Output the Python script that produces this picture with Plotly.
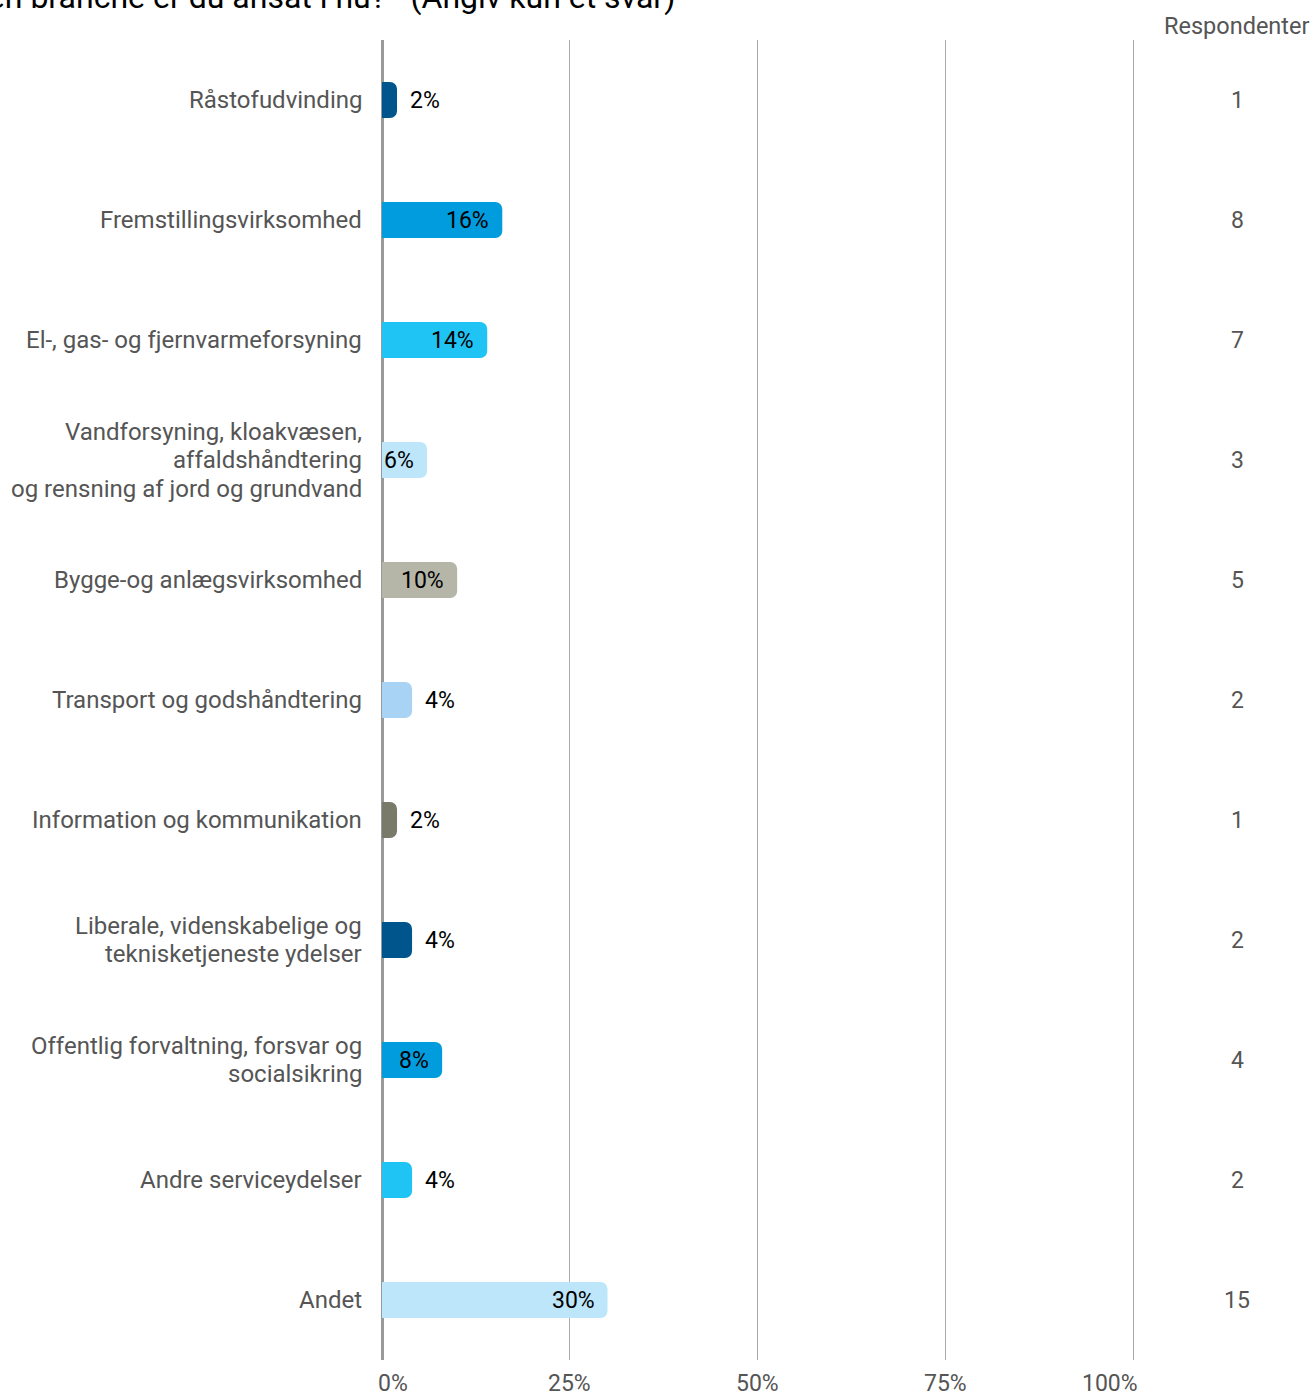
import plotly.graph_objects as go

categories = [
    "Råstofudvinding",
    "Fremstillingsvirksomhed",
    "El-, gas- og fjernvarmeforsyning",
    "Vandforsyning, kloakvæsen,<br>affaldshåndtering<br>og rensning af jord og grundvand",
    "Bygge-og anlægsvirksomhed",
    "Transport og godshåndtering",
    "Information og kommunikation",
    "Liberale, videnskabelige og<br>teknisketjeneste ydelser",
    "Offentlig forvaltning, forsvar og<br>socialsikring",
    "Andre serviceydelser",
    "Andet",
]
percent = [2, 16, 14, 6, 10, 4, 2, 4, 8, 4, 30]
respondents = [1, 8, 7, 3, 5, 2, 1, 2, 4, 2, 15]
colors = ["#00558C", "#009CDE", "#20C4F4", "#BDE6FA", "#B5B5A8", "#A9D3F5",
          "#7A7A6A", "#00558C", "#009CDE", "#20C4F4", "#BDE6FA"]
tick_vals = [0, 25, 50, 75, 100]
tick_text = ["0%", "25%", "50%", "75%", "100%"]
title = "Hvilken branche er du ansat i nu? - (Angiv kun et svar)"

FONT = "Roboto"
W, H = 1314, 1399
ML, MR, MT, MB = 382, 178, 40, 39
PW = W - ML - MR
LINE_H = 28.5

fig = go.Figure(go.Bar(
    x=percent, y=categories, orientation="h",
    marker=dict(color=colors, line=dict(width=0)),
    hoverinfo="skip",
))

annotations = []
# category labels (one annotation per line for tighter line spacing)
for c in categories:
    lines = c.split("<br>")
    n = len(lines)
    for i, ln in enumerate(lines):
        annotations.append(dict(
            x=0, y=c, xref="paper", yref="y", text=ln, showarrow=False,
            xanchor="right", yanchor="middle", align="right", xshift=-18,
            yshift=((n - 1) / 2 - i) * LINE_H,
            font=dict(family=FONT, size=24, color="#555555"),
        ))
# value labels
for c, v in zip(categories, percent):
    inside = v >= 5
    annotations.append(dict(
        x=v, y=c, xref="x", yref="y", text=f"{v}%", showarrow=False,
        xanchor="right" if inside else "left", xshift=-11 if inside else 11,
        font=dict(family=FONT, size=23, color="#000000"),
    ))
# respondent counts
rx = (1237 - ML) / PW
for c, r in zip(categories, respondents):
    annotations.append(dict(
        x=rx, y=c, xref="paper", yref="y", text=str(r), showarrow=False,
        xanchor="center", font=dict(family=FONT, size=23, color="#555555"),
    ))
annotations.append(dict(
    x=(1311 - ML) / PW, y=1, xref="paper", yref="paper", text="Respondenter",
    showarrow=False, xanchor="right", yanchor="middle", yshift=14,
    font=dict(family=FONT, size=23.5, color="#555555"),
))
# x tick labels
tick_shift = {0: 11, 100: -24}
for tv, tt in zip(tick_vals, tick_text):
    annotations.append(dict(
        x=tv, y=0, xref="x", yref="paper", text=tt, showarrow=False,
        xanchor="center", yanchor="top", yshift=-8, xshift=tick_shift.get(tv, 0),
        font=dict(family=FONT, size=23, color="#555555"),
    ))
annotations.append(dict(
    x=(677 - ML) / PW, y=1, xref="paper", yref="paper", text=title,
    showarrow=False, xanchor="right", yanchor="middle", yshift=43,
    font=dict(family=FONT, size=32, color="#000000"),
))

fig.update_layout(
    width=W, height=H,
    margin=dict(l=ML, r=MR, t=MT, b=MB),
    paper_bgcolor="white", plot_bgcolor="white",
    bargap=0.7, barcornerradius=7,
    showlegend=False,
    annotations=annotations,
    font=dict(family=FONT, size=22, color="#555555"),
    xaxis=dict(
        range=[0, 100.3], tickvals=tick_vals, showticklabels=False,
        showgrid=True, gridcolor="#AAAAAA", gridwidth=1,
        zeroline=True, zerolinecolor="#999999", zerolinewidth=3,
        fixedrange=True,
    ),
    yaxis=dict(
        autorange="reversed", showgrid=False, zeroline=False,
        showticklabels=False, fixedrange=True,
    ),
)

fig.write_html("out.html", config={"displayModeBar": False},
               post_script="document.body.style.margin='0';")
